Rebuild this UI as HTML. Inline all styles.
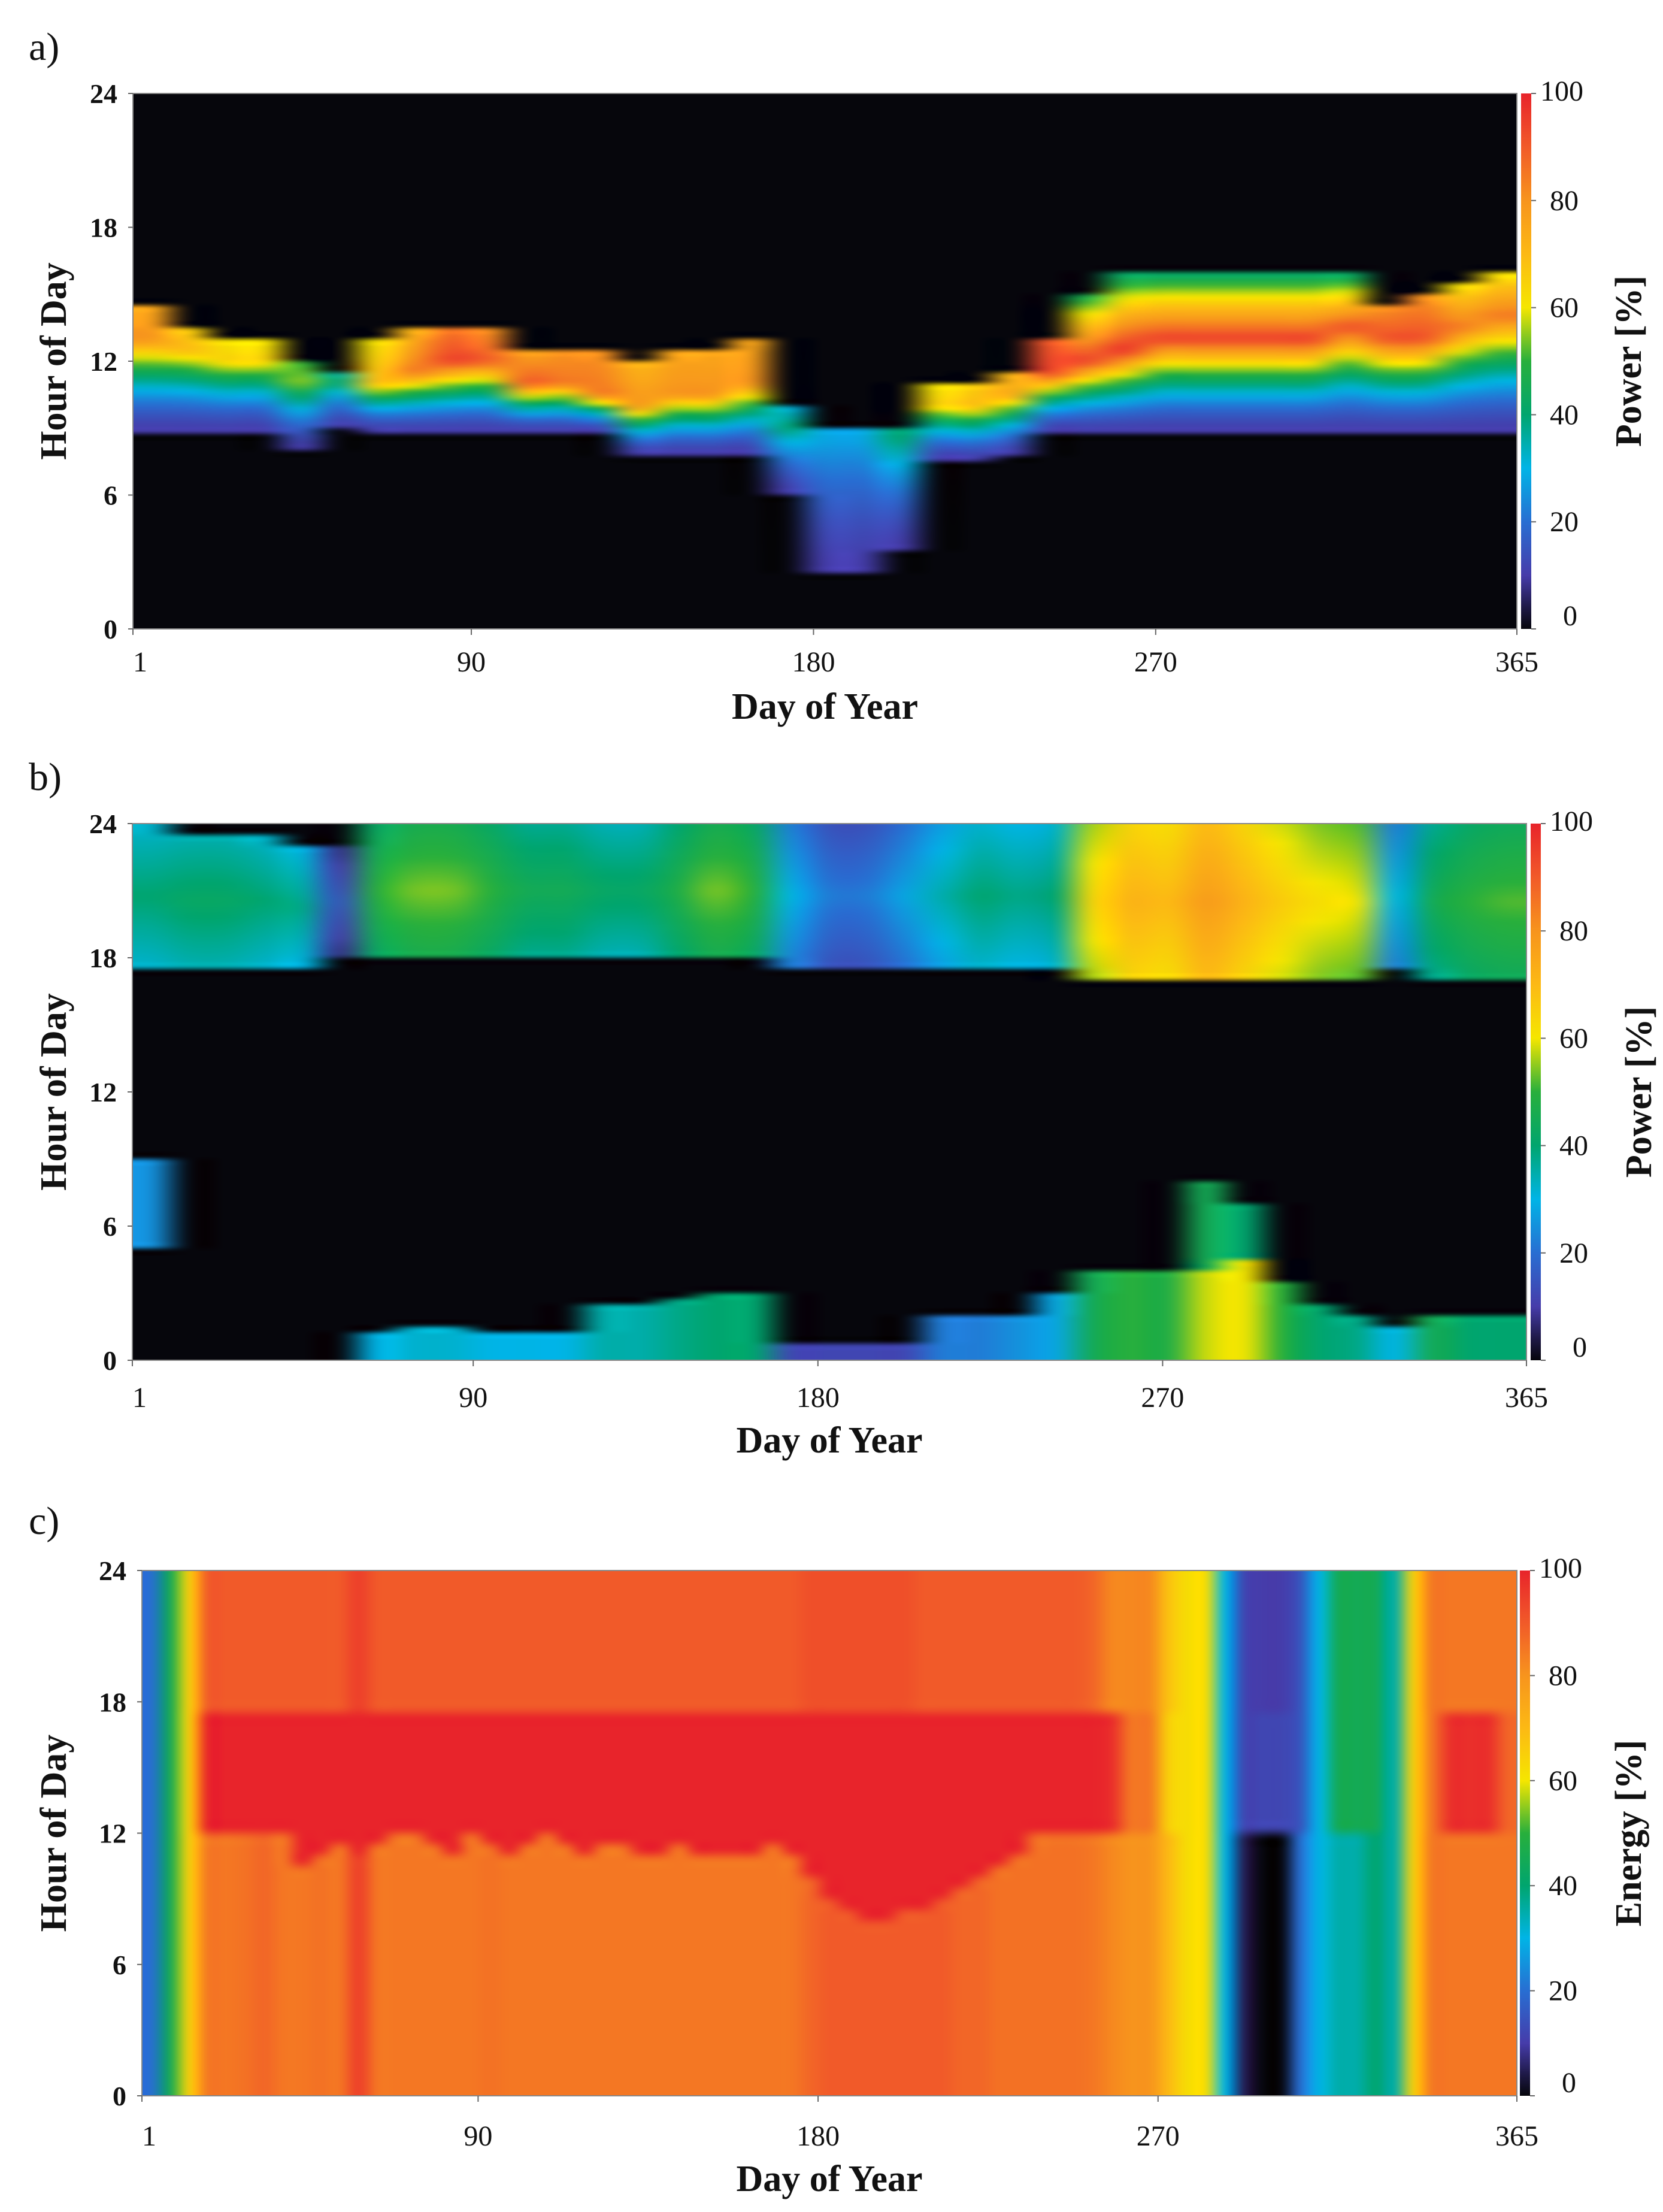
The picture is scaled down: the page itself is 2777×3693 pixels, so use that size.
<!DOCTYPE html>
<html><head><meta charset="utf-8">
<style>
html,body{margin:0;padding:0;background:#fff;}
#root{position:relative;width:2777px;height:3693px;overflow:hidden;background:#fff;}
canvas{position:absolute;}
svg{position:absolute;left:0;top:0;}
text{font-family:"Liberation Serif",serif;fill:#111;}
</style></head>
<body>
<div id="root">
<canvas id="ca"></canvas>
<canvas id="cb"></canvas>
<canvas id="cc"></canvas>
<svg id="ov" width="2777" height="3693"></svg>
</div>
<script>
// ---------- DATA ----------
const xTicks = [1, 90, 180, 270, 365];
const yTicks = [0, 6, 12, 18, 24];
const cTicks = [0, 20, 40, 60, 80, 100];

// Panel a (10-day bins)
const aStart = [8.8,8.8,8.8,8.8,8,9,8.8,8.8,8.8,8.8,8.8,8.8,8.8,7.8,7.8,7.8,7.8,6,2.5,2.5,3.5,7.5,7.5,7.8,8.8,8.8,8.8,8.8,8.8,8.8,8.8,8.8,8.8,8.8,8.8,8.8,8.8];
const aEnd   = [14.5,13.5,13,13,12,11.5,13,13.5,13.5,13.5,12.5,12.5,12.5,12,12.5,12.5,13,10,9,9,9,11,11,11.5,13,15,16,16,16,16,16,16,16,14.5,15,15.5,16];
const aPeakH = [13,12.5,12,12,11,11,11,11.5,12,12,11,11,10.5,10,10.5,10.5,11,9,8.5,8.5,8.5,10,10,10.5,11.5,12,12.5,13,13,13,13,13,13.5,13,13,13.5,14];
const aPeakV = [80,70,65,65,55,40,70,85,95,90,90,85,85,80,80,80,80,40,28,28,40,65,70,75,95,95,98,95,95,95,95,95,92,92,92,85,85];
const aTopV  = [75,65,60,60,50,35,60,70,85,80,75,80,80,70,75,75,75,30,28,28,40,60,65,70,90,45,40,40,40,40,40,40,40,80,80,60,60];

// Panel b (10-day bins)
const bEveStart = [17.5,17.5,17.5,17.5,17.5,18,18,18,18,18,18,18,18,18,18,18,18,17.5,17.5,17.5,17.5,17.5,17.5,17.5,17.5,17,17,17,17,17,17,17,17,17.5,17,17,17];
const bEveTop   = [24,23.6,23.6,23.6,23,23,24,24,24,24,24,24,24,24,24,24,24,24,24,24,24,24,24,24,24,24,24,24,24,24,24,24,24,24,24,24,24];
const bEveVal   = [40,42,42,40,38,15,50,54,54,50,45,45,42,42,48,54,50,30,22,22,28,35,40,38,40,64,72,70,78,72,66,62,60,30,45,50,52];
const bMornEnd  = [0,0,0,0,0,0,1.2,1.5,1.5,1.2,1.2,1.2,2.5,2.5,2.8,3,3,0.8,0.8,0.8,0.8,2,2,2,3,4,4,4,4,4.5,3.5,2.5,2,1.5,2,2,2];
const bMornVal  = [0,0,0,0,0,0,30,32,32,30,30,30,35,35,38,40,40,12,12,12,12,22,22,25,28,45,50,48,58,60,50,40,38,30,45,40,40];
const bBlobLo   = [5,0,0,0,0,0,0,0,0,0,0,0,0,0,0,0,0,0,0,0,0,0,0,0,0,0,0,0,4,4,0,0,0,0,0,0,0];
const bBlobHi   = [9,0,0,0,0,0,0,0,0,0,0,0,0,0,0,0,0,0,0,0,0,0,0,0,0,0,0,0,8,7,0,0,0,0,0,0,0];
const bBlobVal  = [25,0,0,0,0,0,0,0,0,0,0,0,0,0,0,0,0,0,0,0,0,0,0,0,0,0,0,0,45,40,0,0,0,0,0,0,0];

// Panel c (5-day bins)
const cLow  = [20,45,65,85,85,86,88,85,85,86,85,95,85,85,85,85,85,85,86,85,85,85,85,85,85,85,85,85,85,85,85,85,85,85,85,88,90,90,90,90,90,90,90,88,88,86,86,86,86,86,85,82,80,80,70,62,62,30,5,0,0,20,30,35,35,40,35,65,85,85,85,85,85];
const cMid  = [20,45,65,100,100,100,100,100,100,100,100,100,100,100,100,100,100,100,100,100,100,100,100,100,100,100,100,100,100,100,100,100,100,100,100,100,100,100,100,100,100,100,100,100,100,100,100,100,100,100,100,98,85,85,65,62,62,30,12,12,12,15,30,45,45,45,35,65,85,98,98,98,88];
const cHigh = [20,45,65,90,90,90,90,90,90,90,90,95,90,90,90,90,90,90,90,90,90,90,90,90,90,90,90,90,90,90,90,90,90,90,90,92,92,92,92,92,92,90,90,90,90,90,90,90,90,90,88,82,82,82,68,62,62,30,12,10,10,15,30,45,45,45,35,65,85,85,85,85,85];
// hour at which the red (mid) region begins, per 5-day bin
const cRedFrom = [12,12,12,12,12,12,12,12,10.5,11,11.5,11,11.5,12,12,11.5,11,12,11.5,11,11.5,12,11.5,11,11.5,11.5,11,11,11.5,11,11,11,11,11.5,11,10,9,8.5,8,8,8.5,8.5,9,9.5,10,10.5,11,12,12,12,12,12,12,12,12,12,12,12,12,12,12,12,12,12,12,12,12,12,12,12,12,12,12];

// ---------- COLOR MAP ----------
const stops = [[0,[6,6,12]],[4,[30,25,70]],[10,[70,60,170]],[20,[40,110,210]],[30,[0,180,230]],[40,[0,165,110]],[50,[40,175,60]],[60,[245,230,0]],[70,[252,185,20]],[80,[247,148,29]],[90,[241,90,41]],[100,[232,36,43]]];
function cmap(v){
  v=Math.max(0,Math.min(100,v));
  for(let i=1;i<stops.length;i++){
    if(v<=stops[i][0]){const a=stops[i-1],b=stops[i];const t=(v-a[0])/(b[0]-a[0]);
      return [0,1,2].map(k=>Math.round(a[1][k]+(b[1][k]-a[1][k])*t));}
  }
  return stops[stops.length-1][1];
}

const panels = [
 {id:'a',L:222,R:2533,T:156,B:1050,cbX:2540,title:'Power [%]',lab:'a)',labY:78,tickY:1105,titleY:1200,cbTitleX:2720},
 {id:'b',L:221,R:2549,T:1375,B:2271,cbX:2556,title:'Power [%]',lab:'b)',labY:1297,tickY:2333,titleY:2425,cbTitleX:2737},
 {id:'c',L:237,R:2533,T:2622,B:3499,cbX:2538,title:'Energy [%]',lab:'c)',labY:2539,tickY:3566,titleY:3658,cbTitleX:2720}
];

function valA(c,h){
  const S=aStart[c],E=aEnd[c],H=aPeakH[c],P=aPeakV[c],Tv=aTopV[c];
  if(h<S||h>E) return 0;
  if(h<H){const t=(h-S)/(H-S);return 10+(P-10)*Math.pow(t,1.6);}
  return P+(Tv-P)*(h-H)/Math.max(0.01,E-H);
}
function valB(c,h){
  if(h>=bEveStart[c]&&h<=bEveTop[c]){
    const mid=(bEveStart[c]+bEveTop[c])/2, half=(bEveTop[c]-bEveStart[c])/2;
    return bEveVal[c]-8*Math.abs(h-mid)/half;
  }
  if(h<=bMornEnd[c]&&bMornVal[c]>0) return bMornVal[c];
  if(bBlobVal[c]>0&&h>=bBlobLo[c]&&h<=bBlobHi[c]) return bBlobVal[c];
  return 0;
}
function valC(c,h){
  if(h<cRedFrom[c]) return cLow[c];
  if(h<17.5) return cMid[c];
  return cHigh[c];
}

function drawHeat(p,n,fn,rows){
  const cv=document.getElementById('c'+p.id);
  const w=p.R-p.L,h=p.B-p.T;
  cv.width=w;cv.height=h;cv.style.left=p.L+'px';cv.style.top=p.T+'px';
  const off=document.createElement('canvas');off.width=n;off.height=rows;
  const ox=off.getContext('2d');const img=ox.createImageData(n,rows);
  for(let c=0;c<n;c++)for(let r=0;r<rows;r++){
    const hr=24-(r+0.5)*24/rows;const col=cmap(fn(c,hr));
    const i=(r*n+c)*4;img.data[i]=col[0];img.data[i+1]=col[1];img.data[i+2]=col[2];img.data[i+3]=255;
  }
  ox.putImageData(img,0,0);
  const ctx=cv.getContext('2d');ctx.imageSmoothingEnabled=true;ctx.imageSmoothingQuality='high';
  ctx.drawImage(off,0,0,w,h);
}
drawHeat(panels[0],aStart.length,valA,96);
drawHeat(panels[1],bEveVal.length,valB,96);
drawHeat(panels[2],cLow.length,valC,48);

// ---------- AXES ----------
const NS='http://www.w3.org/2000/svg';
const ov=document.getElementById('ov');
function el(tag,attrs,txt){const e=document.createElementNS(NS,tag);for(const k in attrs)e.setAttribute(k,attrs[k]);if(txt!==undefined)e.textContent=txt;ov.appendChild(e);return e;}
const defs=el('defs',{});
const grad=document.createElementNS(NS,'linearGradient');grad.setAttribute('id','cbg');grad.setAttribute('x1','0');grad.setAttribute('y1','1');grad.setAttribute('x2','0');grad.setAttribute('y2','0');
stops.forEach(s=>{const st=document.createElementNS(NS,'stop');st.setAttribute('offset',s[0]+'%');st.setAttribute('stop-color','rgb('+s[1].join(',')+')');grad.appendChild(st);});
defs.appendChild(grad);

panels.forEach(p=>{
  const xs=d=>p.L+(d-1)/364*(p.R-p.L);
  const ys=h=>p.B-h/24*(p.B-p.T);
  const frame=el('rect',{x:p.L,y:p.T,width:p.R-p.L,height:p.B-p.T,fill:'none',stroke:'#888','stroke-width':2});
  
  
  const pl=el('text',{x:48,y:p.labY+22,'font-size':66},p.lab);
  
  
  xTicks.forEach(d=>{
    el('line',{x1:xs(d),x2:xs(d),y1:p.B,y2:p.B+10,stroke:'#666','stroke-width':2});
    const t=el('text',{x:xs(d)+(d===1?12:0),y:p.tickY+16,'font-size':48,'text-anchor':'middle'},String(d));
    
    
  });
  yTicks.forEach(h=>{
    el('line',{x1:p.L-8,x2:p.L,y1:ys(h),y2:ys(h),stroke:'#666','stroke-width':2});
    const t=el('text',{x:p.L-26,y:ys(h)+16,'font-size':46,'font-weight':'bold','text-anchor':'end'},String(h));
    
    
  });
  const xt=el('text',{x:(p.L+p.R)/2,y:p.titleY,'font-size':62,'font-weight':'bold','text-anchor':'middle'},'Day of Year');
  
  
  const yc=(p.T+p.B)/2;
  const yt=el('text',{x:0,y:0,'font-size':62,'font-weight':'bold','text-anchor':'middle',transform:'translate(110,'+yc+') rotate(-90)'},'Hour of Day');
  
  
  const cb=el('rect',{x:p.cbX,y:p.T,width:17,height:p.B-p.T,fill:'url(#cbg)'});
  
  
  cTicks.forEach(v=>{
    const y=p.B-v/100*(p.B-p.T);
    el('line',{x1:p.cbX+17,x2:p.cbX+25,y1:y,y2:y,stroke:'#666','stroke-width':2});
    const t=el('text',{x:p.cbX+(v===0?70:v===100?32:48),y:y+(v===100?12:v===0?-6:16),'font-size':48},String(v));
    
    
  });
  const ct=el('text',{x:0,y:0,'font-size':62,'font-weight':'bold','text-anchor':'middle',transform:'translate('+(p.cbTitleX+20)+','+yc+') rotate(-90)'},p.title);
  
  
});
</script>
</body></html>
